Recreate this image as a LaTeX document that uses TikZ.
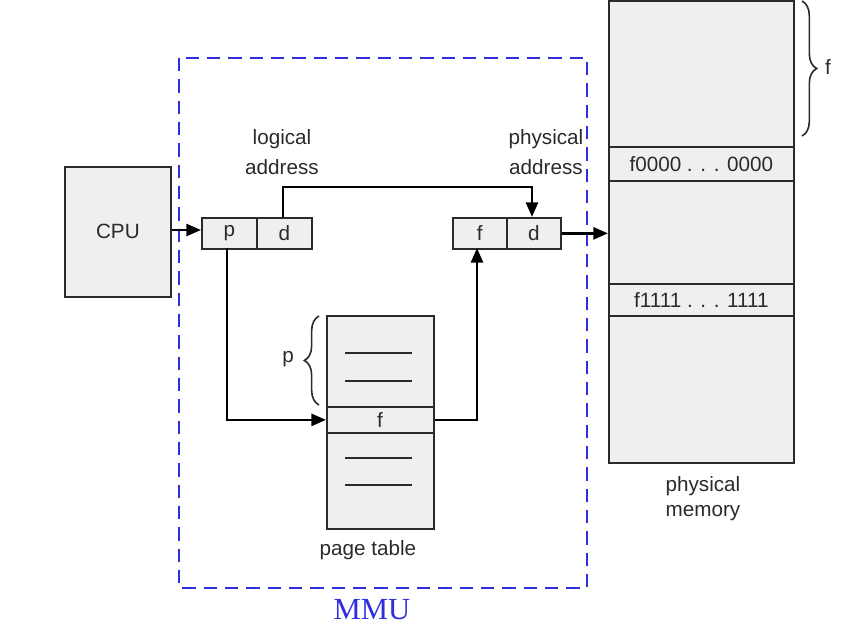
\documentclass[tikz,border=0pt]{standalone}
\usepackage{fontspec}
\setmainfont{Liberation Sans}
\newfontfamily\mmufont{Liberation Serif}
\usetikzlibrary{arrows.meta,decorations.pathreplacing}
\definecolor{boxfill}{HTML}{EFEFEF}
\definecolor{boxline}{HTML}{2A2A2A}
\definecolor{mmublue}{HTML}{2E2EDC}
\begin{document}
\begin{tikzpicture}[x=0.75pt,y=-0.75pt,
  box/.style={draw=boxline,fill=boxfill,line width=1.3pt},
  lbl/.style={font=\fontsize{15.5pt}{18pt}\selectfont,text=boxline,inner sep=0pt},
  conn/.style={line width=2pt,black},
  arr/.style={conn,-{Triangle[length=11pt,width=9pt]}},
  brc/.style={decorate,decoration={brace,amplitude=11pt},line width=1.2pt,boxline},
  rowline/.style={line width=1.3pt,boxline}]
\useasboundingbox (0,0) rectangle (851,628);
% MMU
\draw[mmublue,line width=2pt,dash pattern=on 10pt off 6pt] (179,58) rectangle (587,588);
\node[font=\mmufont\fontsize{23pt}{26pt}\selectfont,text=mmublue] (mmu) at (372,610) {MMU};
% CPU
\node[box,minimum width=106*0.75pt,minimum height=130*0.75pt,anchor=north west,label={[lbl]center:CPU}] (cpu) at (64,166) {};
% logical address
\node[box,minimum width=55*0.75pt,minimum height=31*0.75pt,anchor=north west,inner sep=0pt] (lp) at (201,217) {};
\node[box,minimum width=55*0.75pt,minimum height=31*0.75pt,anchor=north west,inner sep=0pt] (ld) at (256,217) {};
\node[lbl] (lpt) at (lp.center) {p};
\node[lbl] (ldt) at (ld.center) {d};
\node[lbl,align=center] (logl) at (282,139) {logical};
\node[lbl,align=center] (loga) at (282,167) {address};
% physical address
\node[box,minimum width=54*0.75pt,minimum height=31*0.75pt,anchor=north west,inner sep=0pt] (pf) at (452,217) {};
\node[box,minimum width=54*0.75pt,minimum height=31*0.75pt,anchor=north west,inner sep=0pt] (pd) at (506,217) {};
\node[lbl] (pft) at (pf.center) {f};
\node[lbl] (pdt) at (pd.center) {d};
\node[lbl] (phyl) at (546,139) {physical};
\node[lbl] (phya) at (546,167) {address};
% page table
\node[box,minimum width=107*0.75pt,minimum height=213*0.75pt,anchor=north west] (pt) at (326,315) {};
\node[box,minimum width=107*0.75pt,minimum height=26*0.75pt,anchor=north west,inner sep=0pt] (ptf) at (326,406) {};
\node[lbl] (ptft) at (380,420) {f};
\coordinate (l1a) at (345,353); \coordinate (l1b) at (412,353);
\coordinate (l2a) at (345,381); \coordinate (l2b) at (412,381);
\coordinate (l3a) at (345,458); \coordinate (l3b) at (412,458);
\coordinate (l4a) at (345,485); \coordinate (l4b) at (412,485);
\draw[rowline] (l1a) -- (l1b); \draw[rowline] (l2a) -- (l2b);
\draw[rowline] (l3a) -- (l3b); \draw[rowline] (l4a) -- (l4b);
\node[lbl] (ptlabel) at (368,550) {page table};
\coordinate (pb1) at (319,405); \coordinate (pb2) at (319,316);
\draw[brc] (pb1) -- (pb2);
\node[lbl] (pbl) at (288,359) {p};
% physical memory
\node[box,minimum width=185*0.75pt,minimum height=462*0.75pt,anchor=north west] (mem) at (608,0) {};
\node[box,minimum width=185*0.75pt,minimum height=34*0.75pt,anchor=north west,inner sep=0pt] (m0) at (608,146) {};
\node[box,minimum width=185*0.75pt,minimum height=32*0.75pt,anchor=north west,inner sep=0pt] (m1) at (608,283) {};
\node[lbl] (m0t) at (m0.center) {f0000 . . . 0000};
\node[lbl] (m1t) at (m1.center) {f1111 . . . 1111};
\node[lbl] (meml) at (703,486) {physical};
\node[lbl] (mema) at (703,513) {memory};
\coordinate (fb1) at (802,1); \coordinate (fb2) at (802,136);
\draw[brc] (fb1) -- (fb2);
\node[lbl] (fbl) at (828,67) {f};
% connectors
\draw[arr] (cpu.east |- 0,230) -- (lp.west |- 0,230);
\draw[arr] (283,217) -- (283,187) -| (532,217);
\draw[arr] (pd.east) -- (mem.west |- pd.east);
\draw[arr] (227,248) |- (ptf.west);
\draw[arr] (ptf.east) -| (477,248);
\end{tikzpicture}
\end{document}
